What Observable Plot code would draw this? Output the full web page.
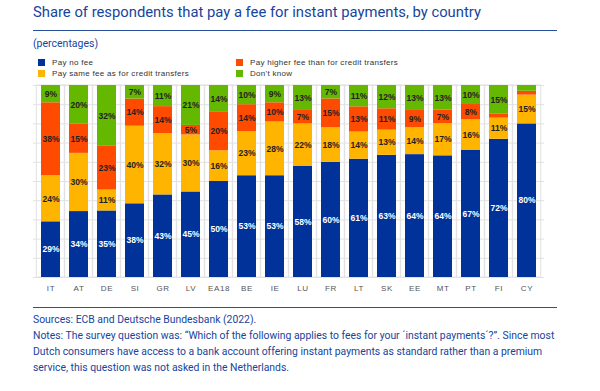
<!DOCTYPE html>
<html>
<head>
<meta charset="utf-8">
<script src="https://cdn.jsdelivr.net/npm/d3@7"></script>
<script src="https://cdn.jsdelivr.net/npm/@observablehq/plot@0.6"></script>
<style>
  html, body { margin: 0; padding: 0; background: #fff; }
  body { width: 600px; height: 391px; position: relative; overflow: hidden; font-family: Roboto, "Liberation Sans", sans-serif; }
  .abs { position: absolute; }
  #title { left: 33px; top: 3px; font-size: 14.8px; color: #17449c; white-space: nowrap; }
  .rule { left: 33px; width: 524px; height: 0; border-top: 1.5px solid #2a4f9e; }
  #sub { left: 33px; top: 37px; font-size: 10.5px; color: #17449c; }
  #legend { left: 0; top: 56px; width: 600px; height: 22px; font-family: "Liberation Sans", Arial, sans-serif; font-size: 8px; letter-spacing: 0.3px; color: #333; }
  .li { position: absolute; white-space: nowrap; line-height: 10px; }
  .sw { display: inline-block; width: 7px; height: 7px; margin-right: 7px; vertical-align: -1px; }
  #chart { left: 0; top: 80px; }
  #foot { left: 33px; top: 312px; width: 560px; font-size: 10.4px; line-height: 16px; color: #17449c; white-space: nowrap; }
</style>
</head>
<body>
<div id="title" class="abs">Share of respondents that pay a fee for instant payments, by country</div>
<div class="abs rule" style="top:30px"></div>
<div id="sub" class="abs">(percentages)</div>
<div id="legend" class="abs"></div>
<div id="chart" class="abs"></div>
<div class="abs rule" style="top:307px"></div>
<div id="foot" class="abs"></div>
<script>
// ---- Data ----
const countries = ["IT","AT","DE","SI","GR","LV","EA18","BE","IE","LU","FR","LT","SK","EE","MT","PT","FI","CY"];
const payNoFee   = [29,34,35,38,43,45,50,53,53,58,60,61,63,64,64,67,72,80];
const paySameFee = [24,30,11,40,32,30,16,23,28,22,18,14,13,14,17,16,11,15];
const payHigher  = [38,15,23,14,14, 5,20,14,10, 7,15,13,11, 9, 7, 8, 2, 2];
const dontKnow   = [ 9,20,32, 7,11,21,14,10, 9,13, 7,11,12,13,13,10,15, 3];
const seriesNames = ["Pay no fee","Pay same fee as for credit transfers","Pay higher fee than for credit transfers","Don't know"];
const seriesColors = ["#003299","#FFB400","#FF4B00","#65B800"];
const gridTicks = [0,10,20,30,40,50,60,70,80,90,100];
const titleText = "Share of respondents that pay a fee for instant payments, by country";
const footLines = [
  "Sources: ECB and Deutsche Bundesbank (2022).",
  "Notes: The survey question was: \u201cWhich of the following applies to fees for your \u00b4instant payments\u00b4?\u201d. Since most",
  "Dutch consumers have access to a bank account offering instant payments as standard rather than a premium",
  "service, this question was not asked in the Netherlands."
];

const seriesValues = [payNoFee, paySameFee, payHigher, dontKnow];
const rows = [];
seriesValues.forEach((vals, si) => {
  countries.forEach((c, i) => rows.push({country: c, series: seriesNames[si], value: vals[i], si}));
});

// legend
const legend = document.getElementById("legend");
const legendPos = [[38,2],[38,12.5],[236,2],[236,12.5]];
seriesNames.forEach((s, i) => {
  const d = document.createElement("div");
  d.className = "li";
  d.style.left = legendPos[i][0] + "px";
  d.style.top = legendPos[i][1] + "px";
  d.innerHTML = `<span class="sw" style="background:${seriesColors[i]}"></span>${s}`;
  legend.appendChild(d);
});

document.getElementById("foot").innerHTML = footLines.map(l => `<div>${l.replace(/</g,"&lt;")}</div>`).join("");

const pInner = 0.33;
const chart = Plot.plot({
  width: 600,
  height: 217,
  marginLeft: 33,
  marginRight: 56,
  marginTop: 5,
  marginBottom: 20,
  style: {fontFamily: "Liberation Sans, Arial, sans-serif", fontSize: "8px", background: "transparent"},
  x: {domain: countries, paddingInner: pInner, paddingOuter: pInner / 2, label: null, tickSize: 0, tickPadding: 8},
  y: {domain: [0, 1], axis: null},
  color: {domain: seriesNames, range: seriesColors},
  marks: [
    Plot.ruleY(gridTicks, {y: d => d / 100, stroke: "#e2e2e2", strokeWidth: 1}),
    Plot.barY(countries, {x: d => d, y1: 0, y2: 1, fill: "none", stroke: "#e2e2e2", strokeWidth: 1, insetLeft: -4.7, insetRight: -4.7}),
    Plot.barY(rows, Plot.stackY({x: "country", y: "value", fill: "series", offset: "normalize", order: null})),
    Plot.text(rows, Plot.stackY({x: "country", y: "value", z: "series", offset: "normalize", order: null,
      text: d => (d.si === 0 ? d.value + "%" : ""), fill: "white", fontWeight: "bold", fontSize: 8.5})),
    Plot.text(rows, Plot.stackY({x: "country", y: "value", z: "series", offset: "normalize", order: null,
      text: d => (d.si > 0 && d.value >= 5 ? d.value + "%" : ""), fill: "#222", fontWeight: "bold", fontSize: 8.5}))
  ]
});
chart.querySelectorAll("[aria-label='x-axis tick label'] text").forEach(t => { t.setAttribute("fill", "#555"); t.style.letterSpacing = "0.6px"; });
document.getElementById("chart").appendChild(chart);
</script>
</body>
</html>
